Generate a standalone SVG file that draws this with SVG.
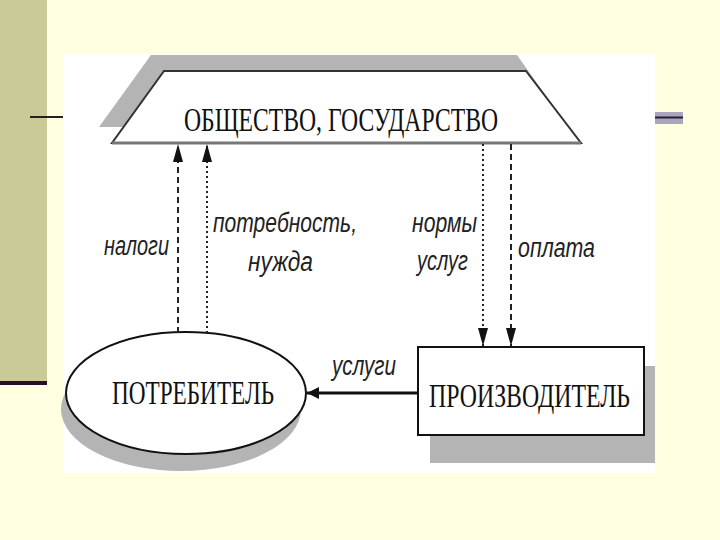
<svg xmlns="http://www.w3.org/2000/svg" width="720" height="540" viewBox="0 0 720 540">
<style>
.node{font-family:"Liberation Serif","Times New Roman",serif;font-size:34px;fill:#111}
.lbl{font-family:"Liberation Sans",Arial,sans-serif;font-style:italic;font-size:27px;fill:#222}
.shadow{fill:#b4b4b4}
.edge{stroke:#222;stroke-width:2;fill:none}
.dash{stroke-dasharray:6 4}
.dot{stroke-dasharray:2 3}
</style>
<defs>
<marker id="ah" viewBox="0 0 18 10" refX="18" refY="5" markerWidth="18" markerHeight="10" markerUnits="userSpaceOnUse" orient="auto">
<path d="M0,0 L18,5 L0,10 Z" fill="#111"/>
</marker>
<marker id="ah2" viewBox="0 0 12 12" refX="12" refY="6" markerWidth="12" markerHeight="12" markerUnits="userSpaceOnUse" orient="auto">
<path d="M0,0 L12,6 L0,12 Z" fill="#111"/>
</marker>
</defs>
<rect x="0" y="0" width="720" height="540" fill="#FFFFE1"/>
<rect x="0" y="0" width="47" height="381" fill="#CACA98"/>
<rect x="0" y="381" width="47" height="4" fill="#2B0B2B"/>
<line x1="30" y1="117" x2="63" y2="117" stroke="#222" stroke-width="2"/>
<rect x="655" y="112" width="28" height="12" fill="#A9A5BD"/>
<line x1="655" y1="117.5" x2="683" y2="117.5" stroke="#2A1A3A" stroke-width="2"/>
<rect x="63" y="54" width="592" height="419" fill="#FFFFFF"/>

<g id="society">
<polygon class="shadow" points="151,55 517,55 568,127 99,127"/>
<polygon points="164,71 526,71 581,143 112,143" fill="#fff" stroke="#333" stroke-width="2"/>
<line x1="112" y1="143" x2="581" y2="143" stroke="#777" stroke-width="3"/>
<text class="node" x="184" y="131" textLength="314" lengthAdjust="spacingAndGlyphs">ОБЩЕСТВО, ГОСУДАРСТВО</text>
</g>

<g id="consumer">
<ellipse class="shadow" cx="181" cy="409" rx="120" ry="62"/>
<ellipse cx="186" cy="393" rx="120" ry="61" fill="#fff" stroke="#111" stroke-width="2"/>
<text class="node" x="112" y="404" textLength="162" lengthAdjust="spacingAndGlyphs">ПОТРЕБИТЕЛЬ</text>
</g>

<g id="producer">
<rect class="shadow" x="430" y="366" width="225" height="97"/>
<rect x="418" y="347" width="226" height="88" fill="#fff" stroke="#111" stroke-width="2"/>
<text class="node" x="429" y="407" textLength="201" lengthAdjust="spacingAndGlyphs">ПРОИЗВОДИТЕЛЬ</text>
</g>

<g id="connectors">
<line class="edge dash" x1="178" y1="333" x2="178" y2="144" marker-end="url(#ah)"/>
<line class="edge dot" x1="207" y1="333" x2="207" y2="144" marker-end="url(#ah)"/>
<line class="edge dot" x1="483" y1="144" x2="483" y2="346" marker-end="url(#ah)"/>
<line class="edge dash" x1="511" y1="144" x2="511" y2="346" marker-end="url(#ah)"/>
<line x1="418" y1="393" x2="307" y2="393" stroke="#111" stroke-width="3" marker-end="url(#ah2)"/>
<text class="lbl" x="104" y="255" textLength="65" lengthAdjust="spacingAndGlyphs">налоги</text>
<text class="lbl" x="213" y="232" textLength="144" lengthAdjust="spacingAndGlyphs">потребность,</text>
<text class="lbl" x="248" y="271" textLength="65" lengthAdjust="spacingAndGlyphs">нужда</text>
<text class="lbl" x="412" y="232" textLength="65" lengthAdjust="spacingAndGlyphs">нормы</text>
<text class="lbl" x="417" y="270" textLength="51" lengthAdjust="spacingAndGlyphs">услуг</text>
<text class="lbl" x="518" y="257" textLength="77" lengthAdjust="spacingAndGlyphs">оплата</text>
<text class="lbl" x="332" y="375" textLength="64" lengthAdjust="spacingAndGlyphs">услуги</text>
</g>
</svg>
